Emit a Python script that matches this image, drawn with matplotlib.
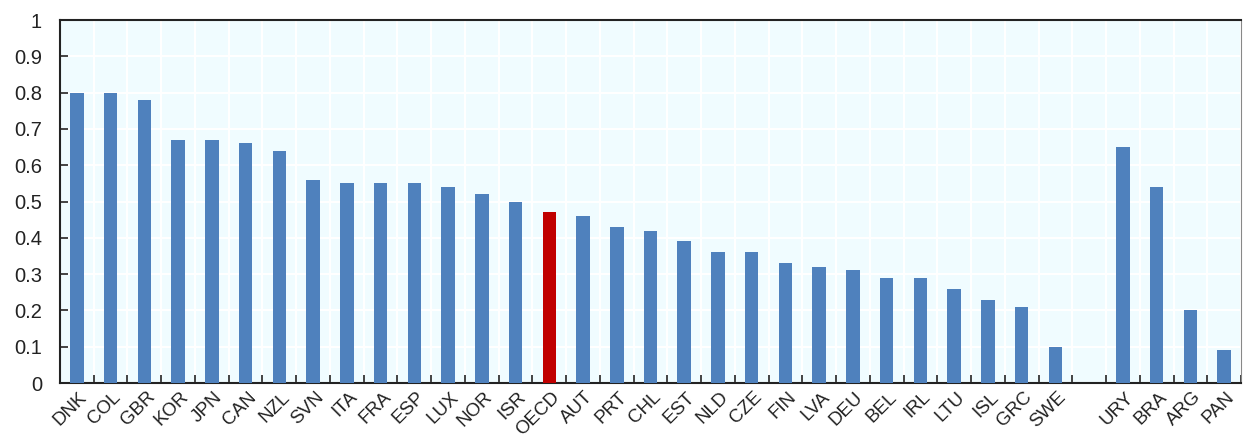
import matplotlib
matplotlib.use("Agg")
import matplotlib.pyplot as plt
import numpy as np

countries = ["DNK", "COL", "GBR", "KOR", "JPN", "CAN", "NZL", "SVN", "ITA", "FRA",
             "ESP", "LUX", "NOR", "ISR", "OECD", "AUT", "PRT", "CHL", "EST", "NLD",
             "CZE", "FIN", "LVA", "DEU", "BEL", "IRL", "LTU", "ISL", "GRC", "SWE"]
values = [0.80, 0.80, 0.78, 0.67, 0.67, 0.66, 0.64, 0.56, 0.55, 0.55,
          0.55, 0.54, 0.52, 0.50, 0.47, 0.46, 0.43, 0.42, 0.39, 0.36,
          0.36, 0.33, 0.32, 0.31, 0.29, 0.29, 0.26, 0.23, 0.21, 0.10]
partners = ["URY", "BRA", "ARG", "PAN"]
partner_values = [0.65, 0.54, 0.20, 0.09]

highlight = "OECD"
blue = "#4F81BD"
red = "#C00000"

plt.rcParams['font.family'] = ['Liberation Sans', 'DejaVu Sans']

fig = plt.figure(figsize=(12.43, 4.40), dpi=100)
ax = fig.add_axes([60/1243, 1 - 383/440, (1241-60)/1243, (383-20)/440])

labels = countries + [""] + partners
vals = values + [np.nan] + partner_values
pos = np.arange(len(labels))
colors = [red if l == highlight else blue for l in labels]

ax.set_facecolor("#F0FCFF")
ax.bar(pos, [0 if np.isnan(v) else v for v in vals], width=0.4, color=colors, zorder=3)

ax.set_xlim(-0.5, len(labels) - 0.5)
ax.set_ylim(0, 1)
ax.set_yticks(np.arange(0, 1.01, 0.1))
ax.set_yticklabels(["0", "0.1", "0.2", "0.3", "0.4", "0.5", "0.6", "0.7", "0.8", "0.9", "1"],
                   fontsize=14.5, color="#222222")
ax.set_xticks(pos + 0.05)
ax.set_xticklabels(labels, rotation=45, ha="right", rotation_mode="anchor", fontsize=13.5, color="#222222")
ax.set_xticks(np.arange(-0.5, len(labels), 1.0), minor=True)

ax.tick_params(axis="x", which="major", length=0, pad=4)
ax.tick_params(axis="x", which="minor", direction="in", length=6, width=1.2, color="#222222")
ax.tick_params(axis="y", which="major", direction="in", length=6, width=1.2, color="#222222", pad=13)

ax.grid(axis="y", which="major", color="white", linewidth=1.5, zorder=1)
ax.grid(axis="x", which="minor", color="white", linewidth=1.5, zorder=1)

for side in ["left", "bottom", "top"]:
    ax.spines[side].set_color("#222222")
    ax.spines[side].set_linewidth(1.5)
ax.spines["right"].set_color("#888888")
ax.spines["right"].set_linewidth(0.8)

fig.savefig("out.png", dpi=100)
